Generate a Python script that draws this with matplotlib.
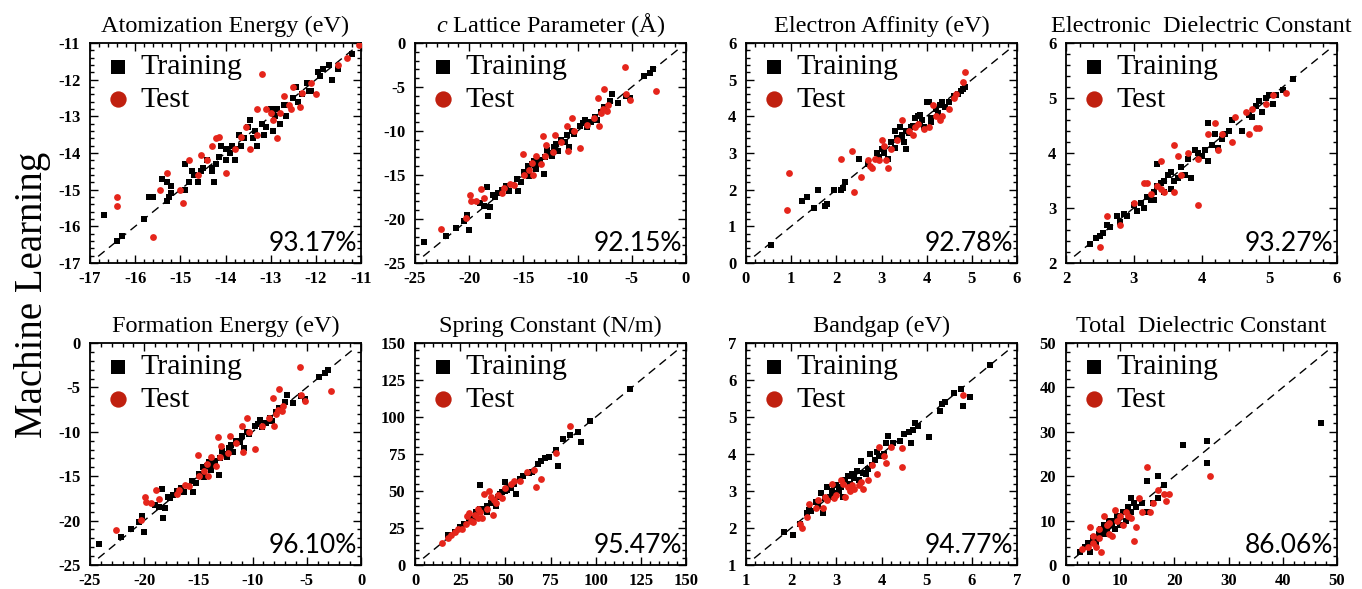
import numpy as np
import matplotlib
matplotlib.use("Agg")
import matplotlib.pyplot as plt
from matplotlib.ticker import AutoMinorLocator, MultipleLocator

plt.rcParams['font.family'] = ['Liberation Serif', 'DejaVu Serif']
plt.rcParams['mathtext.fontset'] = 'custom'
plt.rcParams['mathtext.it'] = 'Liberation Serif:italic'
plt.rcParams['mathtext.rm'] = 'Liberation Serif'
plt.rcParams['axes.unicode_minus'] = False

# ---- data (DFT value, ML prediction) ----
atom_train_x = [-16.7, -16.4, -16.3, -15.8, -15.7, -15.6, -15.4, -15.3, -15.3, -15.25, -15.2, -15.2, -14.9, -14.9,
                -14.8, -14.75, -14.7, -14.6, -14.55, -14.5, -14.4, -14.3, -14.3, -14.25, -14.2, -14.15, -14.1, -14.0,
                -14.0, -13.9, -13.85, -13.8, -13.8, -13.7, -13.65, -13.6, -13.5, -13.45, -13.4, -13.35, -13.3, -13.2,
                -13.15, -13.1, -13.0, -12.95, -12.9, -12.85, -12.8, -12.7, -12.65, -12.5, -12.45, -12.4, -12.3, -12.2,
                -12.15, -12.1, -11.95, -11.9, -11.85, -11.7, -11.65, -11.5, -11.2]
atom_train_y = [-15.7, -16.4, -16.25, -15.8, -15.2, -15.2, -14.7, -14.8, -15.3, -15.2, -15.1, -14.9, -14.3, -15.0,
                -14.8, -14.5, -14.6, -14.8, -14.5, -14.4, -14.2, -14.4, -14.5, -14.8, -14.3, -14.1, -13.8, -14.2,
                -13.9, -14.0, -13.8, -14.2, -13.9, -13.5, -13.8, -13.6, -13.3, -13.1, -13.6, -13.4, -13.8, -13.2,
                -13.5, -13.3, -12.8, -13.4, -13.0, -12.8, -13.2, -12.7, -13.0, -12.5, -12.2, -12.6, -12.4, -12.1,
                -12.3, -12.3, -11.8, -11.9, -11.7, -11.6, -12.0, -11.7, -11.3]
atom_test_x = [-16.4, -16.4, -15.6, -15.45, -15.3, -15.0, -14.95, -14.8, -14.6, -14.55, -14.4, -14.3, -14.2, -14.15,
               -14.0, -13.8, -13.65, -13.55, -13.45, -13.3, -13.2, -13.1, -13.0, -12.95, -12.85, -12.8, -12.6, -12.55,
               -12.5, -12.35, -12.3, -12.1, -12.0, -11.3, -11.05, -11.5, -12.7, -13.3]
atom_test_y = [-15.2, -15.45, -16.3, -15.0, -14.55, -15.0, -15.35, -14.2, -14.6, -14.05, -14.2, -13.8, -13.6, -13.55,
               -14.55, -13.9, -13.55, -13.3, -13.9, -13.5, -11.85, -12.8, -12.9, -13.1, -13.6, -12.9, -12.7, -12.8,
               -12.2, -12.75, -12.35, -12.1, -12.4, -11.4, -11.05, -11.6, -12.45, -12.8]

latt_train_x = [-24.2, -22.1, -21.2, -20.5, -20.2, -20.0, -19.0, -18.6, -18.4, -18.3, -18.1, -17.8, -17.6, -17.3,
                -17.0, -16.6, -16.3, -15.6, -15.5, -14.9, -14.6, -14.5, -14.2, -14.0, -13.8, -13.5, -13.1, -13.0,
                -12.8, -12.6, -12.4, -12.2, -12.0, -11.8, -11.5, -11.2, -11.0, -10.8, -10.5, -10.3, -9.5, -9.3,
                -9.1, -8.8, -8.4, -8.2, -7.8, -7.6, -7.0, -6.8, -6.3, -5.5, -5.2, -3.9, -3.3, -3.0, -13.8, -15.2, -9.8]
latt_train_y = [-22.6, -21.9, -21.0, -20.2, -19.5, -21.3, -18.2, -18.5, -16.4, -19.7, -18.6, -17.3, -17.5, -17.1,
                -16.7, -16.3, -16.8, -15.5, -16.8, -14.7, -14.0, -15.1, -13.8, -13.4, -13.6, -13.3, -14.9, -13.0,
                -12.2, -12.5, -12.8, -11.8, -11.5, -12.3, -11.0, -11.2, -10.5, -11.8, -10.0, -10.3, -9.1, -8.7,
                -9.5, -9.0, -8.4, -8.8, -7.8, -7.3, -6.6, -5.8, -6.8, -6.0, -6.3, -3.8, -3.4, -3.0, -14.3, -15.8, -9.4]
latt_test_x = [-22.6, -20.3, -19.9, -19.8, -19.4, -18.9, -18.6, -17.0, -16.8, -16.2, -15.9, -15.0, -14.9, -14.5,
               -14.2, -14.1, -13.8, -13.4, -13.2, -13.0, -12.9, -12.3, -12.1, -11.5, -11.0, -10.9, -10.5, -10.3,
               -9.8, -9.1, -8.5, -8.1, -8.0, -7.7, -7.6, -7.3, -7.2, -5.6, -5.5, -5.2, -2.8, -7.8]
latt_test_y = [-21.1, -19.9, -17.3, -17.9, -18.0, -16.6, -17.6, -17.0, -16.5, -16.0, -16.1, -12.6, -15.0, -14.4,
               -13.6, -15.0, -12.8, -13.8, -10.6, -12.8, -11.6, -12.4, -10.5, -11.3, -9.4, -12.3, -8.5, -10.0,
               -11.9, -9.3, -8.5, -6.2, -9.4, -7.5, -5.2, -7.7, -7.1, -2.7, -5.8, -6.5, -5.4, -8.0]

ea_train_x = [0.55, 1.25, 1.35, 1.5, 1.6, 1.75, 1.8, 1.95, 2.1, 2.15, 2.2, 2.5, 2.7, 2.9, 2.95, 3.0, 3.05, 3.15, 3.2,
              3.3, 3.3, 3.35, 3.4, 3.45, 3.5, 3.55, 3.6, 3.65, 3.7, 3.75, 3.8, 3.85, 3.9, 3.95, 4.0, 4.05, 4.1, 4.2,
              4.25, 4.3, 4.35, 4.4, 4.5, 4.6, 4.7, 4.75, 4.8, 4.85, 3.85, 4.1, 3.45, 3.55]
ea_train_y = [0.5, 1.7, 1.8, 1.5, 2.0, 1.55, 1.6, 2.0, 2.0, 2.05, 2.2, 2.85, 2.7, 3.0, 2.9, 3.1, 3.0, 2.85, 3.3,
              3.6, 3.15, 3.4, 3.7, 3.45, 3.3, 3.1, 3.55, 3.7, 3.75, 3.95, 4.0, 3.8, 3.9, 3.7, 4.4, 4.4, 3.95, 4.2,
              4.1, 4.3, 4.4, 4.25, 4.4, 4.55, 4.6, 4.7, 4.75, 4.8, 4.05, 3.85, 3.5, 3.6]
ea_test_x = [0.9, 0.95, 2.1, 2.35, 2.4, 2.55, 2.7, 2.75, 2.8, 2.85, 2.95, 3.0, 3.05, 3.1, 3.15, 3.2, 3.35, 3.45, 3.6,
             3.7, 3.8, 3.95, 4.05, 4.15, 4.3, 4.35, 4.5, 4.6, 4.65, 4.8, 4.85, 3.75, 4.2]
ea_test_y = [1.45, 2.45, 2.85, 3.05, 1.95, 2.35, 2.8, 2.65, 2.6, 2.85, 2.8, 3.35, 3.2, 2.8, 2.6, 3.1, 3.35, 3.9, 3.6,
             3.5, 3.8, 3.65, 3.7, 4.3, 3.9, 4.0, 4.2, 4.5, 4.6, 4.95, 5.2, 3.7, 4.0]

edc_train_x = [2.35, 2.45, 2.5, 2.55, 2.6, 2.65, 2.75, 2.8, 2.85, 2.9, 3.0, 3.05, 3.1, 3.15, 3.2, 3.25, 3.3, 3.35,
               3.35, 3.4, 3.45, 3.5, 3.55, 3.6, 3.65, 3.7, 3.75, 3.8, 3.85, 3.9, 3.95, 4.0, 4.05, 4.1, 4.1, 4.15,
               4.2, 4.25, 4.3, 4.35, 4.4, 4.45, 4.6, 4.7, 4.75, 4.8, 4.85, 4.9, 4.95, 5.0, 5.05, 5.1, 5.2, 5.35,
               3.45, 3.55, 3.3]
edc_train_y = [2.35, 2.45, 2.5, 2.55, 2.7, 2.65, 2.85, 2.75, 2.9, 2.85, 3.05, 2.95, 3.1, 3.0, 3.2, 3.15, 3.3, 3.4,
               3.8, 3.45, 3.5, 3.6, 3.65, 3.5, 3.55, 3.75, 3.6, 3.9, 3.55, 4.05, 4.0, 3.95, 4.05, 3.85, 4.55, 4.15,
               4.35, 4.1, 4.25, 4.35, 4.4, 4.6, 4.4, 4.7, 4.65, 4.85, 4.95, 4.75, 5.0, 5.05, 4.9, 5.05, 5.15, 5.35,
               3.3, 3.35, 3.15]
edc_test_x = [2.5, 2.6, 2.8, 3.0, 3.15, 3.2, 3.25, 3.35, 3.4, 3.45, 3.6, 3.6, 3.65, 3.7, 3.8, 3.95, 3.95, 4.1, 4.2,
              4.25, 4.3, 4.45, 4.5, 4.7, 4.75, 4.8, 4.85, 4.95, 5.05, 5.25, 4.65, 3.4]
edc_test_y = [2.3, 2.85, 2.7, 3.1, 3.45, 3.45, 3.25, 3.4, 3.85, 3.3, 3.3, 4.15, 3.95, 3.6, 4.0, 3.05, 3.9, 4.35, 4.55,
              4.05, 4.35, 4.2, 4.65, 4.35, 4.8, 4.45, 4.45, 4.9, 5.05, 5.1, 4.75, 3.35]

# formation energy panel shows the same scatter as the c lattice panel
form_train_x, form_train_y = latt_train_x, latt_train_y
form_test_x, form_test_y = latt_test_x, latt_test_y

spr_train_x = [18, 22, 25, 27, 30, 32, 34, 36, 36, 38, 40, 42, 44, 46, 47, 48, 50, 51, 52, 50, 55, 56, 58, 60, 63, 65,
               68, 70, 72, 74, 78, 79, 82, 86, 90, 92, 97, 119, 45, 40, 53]
spr_train_y = [20, 22, 26, 28, 30, 32, 36, 54, 38, 38, 40, 42, 44, 46, 48, 49, 50, 51, 53, 56, 55, 48, 58, 60, 62, 63,
               68, 70, 72, 73, 78, 67, 85, 88, 90, 83, 97, 119, 40, 36, 52]
spr_test_x = [15, 18, 20, 22, 24, 26, 28, 29, 30, 31, 33, 35, 36, 37, 38, 40, 41, 42, 43, 44, 45, 46, 48, 50, 53, 55,
              58, 62, 66, 67, 70, 78, 86, 32, 35]
spr_test_y = [15, 18, 20, 22, 24, 24, 28, 33, 35, 30, 34, 32, 36, 32, 48, 38, 50, 46, 34, 44, 42, 47, 45, 52, 55, 57,
              57, 63, 64, 53, 58, 76, 94, 29, 38]

bg_train_x = [1.85, 2.05, 2.2, 2.35, 2.4, 2.45, 2.55, 2.6, 2.65, 2.7, 2.75, 2.8, 2.85, 2.9, 2.95, 3.0, 3.05, 3.1, 3.15,
              3.2, 3.25, 3.3, 3.35, 3.4, 3.45, 3.5, 3.55, 3.6, 3.65, 3.7, 3.75, 3.8, 3.85, 3.9, 3.95, 4.05, 4.1, 4.15,
              4.25, 4.4, 4.5, 4.6, 4.65, 4.7, 4.75, 4.8, 5.05, 5.3, 5.35, 5.4, 5.6, 5.75, 5.8, 5.95, 6.4, 3.3, 3.0, 3.4]
bg_train_y = [1.9, 1.8, 2.1, 2.4, 2.5, 2.45, 2.7, 2.6, 2.95, 2.4, 2.8, 3.1, 2.85, 3.0, 3.15, 2.95, 3.0, 3.1, 2.85,
              3.3, 3.4, 3.2, 3.45, 3.35, 3.55, 3.3, 3.8, 3.5, 3.45, 3.6, 4.0, 3.7, 3.85, 4.05, 3.95, 4.0, 4.3, 4.5,
              4.3, 4.35, 4.55, 4.6, 4.3, 4.65, 4.85, 4.75, 4.45, 5.15, 5.35, 5.4, 5.65, 5.75, 5.3, 5.55, 6.4, 3.1, 3.15, 3.45]
bg_test_x = [2.2, 2.25, 2.35, 2.4, 2.55, 2.6, 2.7, 2.75, 2.8, 2.9, 2.95, 3.0, 3.1, 3.15, 3.2, 3.25, 3.3, 3.4, 3.5,
             3.55, 3.6, 3.7, 3.8, 3.9, 3.95, 4.05, 4.1, 4.2, 4.45, 4.45, 5.8, 3.35]
bg_test_y = [2.1, 2.0, 2.3, 2.65, 2.55, 2.75, 2.55, 2.85, 2.75, 3.2, 2.8, 2.9, 3.3, 3.2, 2.85, 3.1, 3.0, 3.05, 3.15,
             3.25, 3.05, 3.3, 3.7, 3.45, 4.2, 3.95, 3.75, 4.2, 4.15, 3.65, 5.6, 3.15]

tdc_train_x = [2.5, 3.5, 4, 4.5, 5, 5.5, 6, 6.5, 7, 7.5, 8, 8.5, 9, 9.5, 10, 10.5, 11, 11.5, 12, 12, 12.5, 13, 14, 15,
               15, 16, 17, 17, 18, 21.5, 26, 26, 47, 7, 9, 10, 6]
tdc_train_y = [3, 4, 5, 3, 6, 5, 7, 8, 9, 8, 10, 9, 10, 11, 9, 12, 10, 13, 15, 12, 14, 13, 14, 19, 12, 14, 20, 15, 18,
               27, 28, 23, 32, 7, 8, 11, 6]
tdc_test_x = [3, 4, 4.5, 5, 5.5, 6, 6.5, 7, 7.5, 8, 8.5, 9, 9.5, 10, 10.5, 11, 11.5, 12, 12.5, 13, 13.5, 14, 15, 15.5,
              16, 17, 18, 19, 18.5, 26.5, 6, 8, 5]
tdc_test_y = [3.5, 4, 8.5, 5, 4, 6, 3, 11, 9, 7, 6.5, 12.5, 10, 11, 9, 12, 11, 10.5, 5.5, 8.5, 15, 12, 22, 12, 14, 17,
              16, 16, 14.5, 20, 8, 9.5, 6.5]

titles = ["Atomization Energy (eV)", r"$c$ Lattice Parameter (Å)", "Electron Affinity (eV)",
          "Electronic  Dielectric Constant", "Formation Energy (eV)", "Spring Constant (N/m)",
          "Bandgap (eV)", "Total  Dielectric Constant"]
scores = ["93.17%", "92.15%", "92.78%", "93.27%", "96.10%", "95.47%", "94.77%", "86.06%"]
limits = [(-17, -11), (-25, 0), (0, 6), (2, 6), (-25, 0), (0, 150), (1, 7), (0, 50)]
major = [1, 5, 1, 1, 5, 25, 1, 10]
train = [(atom_train_x, atom_train_y), (latt_train_x, latt_train_y), (ea_train_x, ea_train_y),
         (edc_train_x, edc_train_y), (form_train_x, form_train_y), (spr_train_x, spr_train_y),
         (bg_train_x, bg_train_y), (tdc_train_x, tdc_train_y)]
test = [(atom_test_x, atom_test_y), (latt_test_x, latt_test_y), (ea_test_x, ea_test_y),
        (edc_test_x, edc_test_y), (form_test_x, form_test_y), (spr_test_x, spr_test_y),
        (bg_test_x, bg_test_y), (tdc_test_x, tdc_test_y)]

W, H = 1362, 589
fig = plt.figure(figsize=(W / 100, H / 100), dpi=100)

lefts = [90, 415, 746, 1066]
rows = [(43, 263), (343, 565)]
width = 271

red = '#e5251b'

for i in range(8):
    r, c = divmod(i, 4)
    top, bot = rows[r]
    ax = fig.add_axes([lefts[c] / W, 1 - bot / H, width / W, (bot - top) / H])
    lo, hi = limits[i]
    span = hi - lo
    ax.plot([lo + 0.03 * span, hi - 0.03 * span], [lo + 0.03 * span, hi - 0.03 * span],
            ls=(0, (6, 4)), color='black', lw=1.0, zorder=1)
    tx, ty = train[i]
    ex, ey = test[i]
    ax.scatter(tx, ty, marker='s', s=20, color='black', lw=0, zorder=2, label='Training')
    ax.scatter(ex, ey, marker='o', s=24, color=red, lw=0, zorder=3, label='Test')
    ax.set_xlim(lo, hi)
    ax.set_ylim(lo, hi)
    ax.xaxis.set_major_locator(MultipleLocator(major[i]))
    ax.yaxis.set_major_locator(MultipleLocator(major[i]))
    ax.xaxis.set_minor_locator(AutoMinorLocator(5))
    ax.yaxis.set_minor_locator(AutoMinorLocator(5))
    ax.tick_params(which='both', direction='in', top=True, right=True, width=1.0)
    ax.tick_params(which='major', length=6, labelsize=12)
    ax.tick_params(axis='x', which='major', pad=6)
    ax.tick_params(axis='y', which='major', pad=7)
    ax.tick_params(which='minor', length=3)
    for lab in ax.get_xticklabels() + ax.get_yticklabels():
        lab.set_fontweight('bold')
    for sp in ax.spines.values():
        sp.set_linewidth(1.3)
    ax.set_title(titles[i], fontsize=17.5, pad=8)
    leg = ax.legend(loc='upper left', frameon=False, fontsize=21.5, markerscale=2.4,
                    handletextpad=0.15, labelspacing=0.2, borderaxespad=0.1, handlelength=1.2,
                    borderpad=0.25)
    leg.legend_handles[1].set_color('#c0200f')
    ax.text(0.985, 0.03, scores[i], transform=ax.transAxes, ha='right', va='bottom',
            fontsize=19, family=['Lato', 'DejaVu Sans'])

fig.text(0.024, 0.5, "Machine Learning", rotation=90, ha='center', va='center', fontsize=28)

fig.savefig("out.png", dpi=100)
